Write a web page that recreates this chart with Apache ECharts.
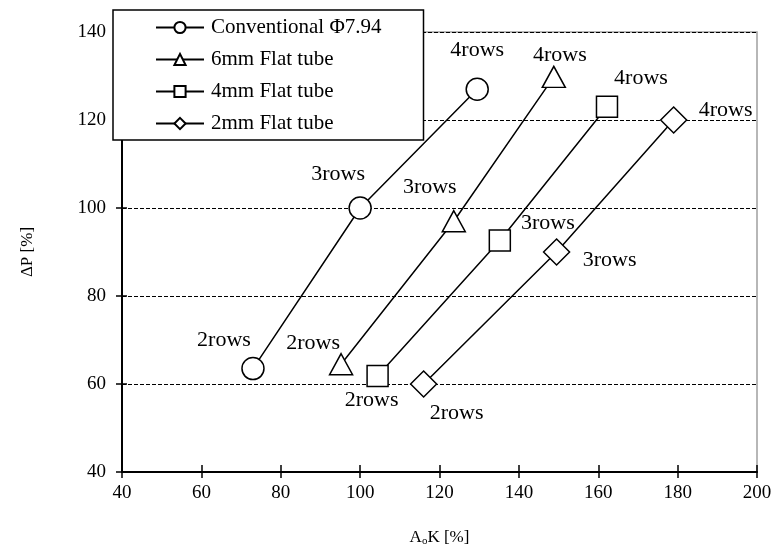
<!DOCTYPE html>
<html>
<head>
<meta charset="utf-8">
<script src="https://cdn.jsdelivr.net/npm/echarts@6/dist/echarts.min.js"></script>
<style>
  html, body { margin: 0; padding: 0; background: #fff; }
  #chart { width: 777px; height: 552px; }
</style>
</head>
<body>
<div id="chart"></div>
<script>
// Tube types and row counts
const seriesNames = ['Conventional Φ7.94', '6mm Flat tube', '4mm Flat tube', '2mm Flat tube'];
const rowLabels = ['2rows', '3rows', '4rows'];

// A_oK [%] and ΔP [%] for 2, 3 and 4 rows
const conventionalAoK = [73, 100, 129.5];
const conventionalDP  = [63.5, 100, 127];
const flat6AoK = [95.2, 123.6, 148.8];
const flat6DP  = [64.5, 97, 129.8];
const flat4AoK = [104.4, 135.2, 162.2];
const flat4DP  = [61.8, 92.6, 123];
const flat2AoK = [116, 149.5, 179];
const flat2DP  = [60, 90, 120];

// Axis ranges
const xRange = { min: 40, max: 200, interval: 20 };
const yRange = { min: 40, max: 140, interval: 20 };

// Row-label placement (pixel offsets from each marker)
const labelOffsets = [
  [[-29, -28], [-22, -34], [0, -39]],
  [[-28, -21], [-24, -34], [6, -22]],
  [[-6, 24], [48, -17], [34, -29]],
  [[33, 29], [53, 8], [52, -10]]
];
const symbols = ['circle', 'triangle', 'rect', 'diamond'];
const symbolSizes = [22, [23, 21], 21, [26, 26]];

const xs = [conventionalAoK, flat6AoK, flat4AoK, flat2AoK];
const ys = [conventionalDP, flat6DP, flat4DP, flat2DP];

const serif = '"Liberation Serif", "Times New Roman", serif';

const series = seriesNames.map((name, s) => ({
  name: name,
  type: 'line',
  xAxisIndex: 0,
  yAxisIndex: 0,
  symbol: symbols[s],
  symbolSize: symbolSizes[s],
  lineStyle: { color: '#000', width: 1.5 },
  itemStyle: { color: '#fff', borderColor: '#000', borderWidth: 1.5 },
  emphasis: { disabled: true },
  z: 3,
  data: xs[s].map((x, i) => ({
    value: [x, ys[s][i]],
    label: {
      show: true,
      formatter: rowLabels[i],
      position: 'inside',
      offset: labelOffsets[s][i],
      align: 'center',
      verticalAlign: 'middle',
      color: '#000',
      fontFamily: serif,
      fontSize: 22
    }
  }))
}));

const chart = echarts.init(document.getElementById('chart'), null, { renderer: 'canvas' });
chart.setOption({
  animation: false,
  backgroundColor: '#fff',
  grid: {
    left: 122, right: 20, top: 32, bottom: 80,
    show: true, borderColor: '#a0a0a0', borderWidth: 1.5, backgroundColor: 'transparent'
  },
  legend: {
    orient: 'vertical',
    left: 113,
    top: 10,
    data: seriesNames,
    backgroundColor: '#fff',
    borderColor: '#000',
    borderWidth: 1.5,
    borderRadius: 0,
    padding: [7, 42, 6, 42],
    itemWidth: 48,
    itemHeight: 14,
    itemGap: 11,
    textStyle: { fontFamily: serif, fontSize: 21, color: '#000', padding: [0, 0, 0, 2] },
    selectedMode: false
  },
  xAxis: [
    {
      type: 'value', min: xRange.min, max: xRange.max, interval: xRange.interval,
      name: 'A{sub|o}K [%]', nameLocation: 'middle', nameGap: 56,
      nameTextStyle: {
        fontFamily: serif, fontSize: 17, color: '#000',
        rich: { sub: { fontFamily: serif, fontSize: 11, verticalAlign: 'bottom', padding: [8, 0, 0, 0], color: '#000' } }
      },
      axisLine: { show: true, onZero: false, lineStyle: { color: '#000', width: 2 } },
      axisTick: { show: true, inside: false, length: 6, lineStyle: { color: '#000', width: 1.5 } },
      axisLabel: { fontFamily: serif, fontSize: 19, color: '#000', margin: 12 },
      splitLine: { show: false }
    },
    {
      type: 'value', min: xRange.min, max: xRange.max, interval: xRange.interval,
      position: 'bottom',
      axisLine: { show: false, onZero: false },
      axisTick: { show: true, inside: true, length: 7, lineStyle: { color: '#000', width: 1.5 } },
      axisLabel: { show: false },
      splitLine: { show: false }
    }
  ],
  yAxis: [
    {
      type: 'value', min: yRange.min, max: yRange.max, interval: yRange.interval,
      name: 'ΔP [%]', nameLocation: 'middle', nameGap: 86, nameRotate: 90,
      nameTextStyle: { fontFamily: serif, fontSize: 17, color: '#000' },
      axisLine: { show: true, onZero: false, lineStyle: { color: '#000', width: 2 } },
      axisTick: { show: true, inside: false, length: 6, lineStyle: { color: '#000', width: 1.5 } },
      axisLabel: { fontFamily: serif, fontSize: 19, color: '#000', margin: 16 },
      splitLine: { show: true, lineStyle: { color: '#000', width: 1, type: [4, 2] } }
    },
    {
      type: 'value', min: yRange.min, max: yRange.max, interval: yRange.interval,
      position: 'left',
      axisLine: { show: false, onZero: false },
      axisTick: { show: true, inside: true, length: 5, lineStyle: { color: '#000', width: 1.5 } },
      axisLabel: { show: false },
      splitLine: { show: false }
    }
  ],
  series: series
});
</script>
</body>
</html>
